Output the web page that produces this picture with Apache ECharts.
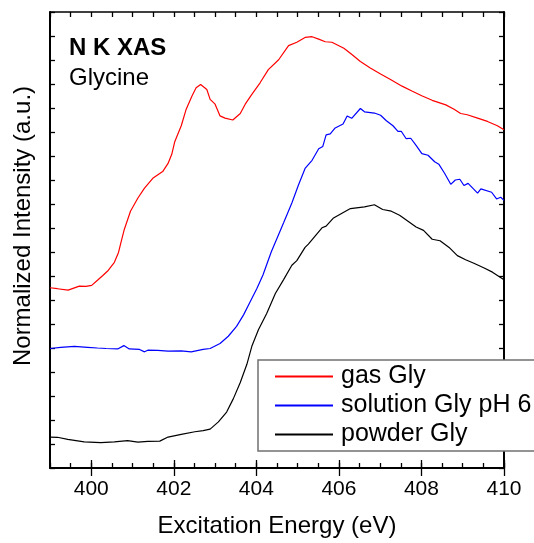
<!DOCTYPE html>
<html>
<head>
<meta charset="utf-8">
<script src="https://cdn.jsdelivr.net/npm/echarts@6/dist/echarts.min.js"></script>
<style>html,body{margin:0;padding:0;background:#fff}#c{width:534px;height:543px}</style>
</head>
<body>
<div id="c"></div>
<script>
// Excitation energy (eV) and normalized intensity (offset, a.u.)
const gasX = [399.00,399.18,399.44,399.71,399.87,400.01,400.15,400.28,400.41,400.56,400.66,400.72,400.80,400.95,401.13,401.29,401.49,401.73,401.86,401.95,402.02,402.18,402.30,402.44,402.54,402.65,402.80,402.88,403.00,403.12,403.24,403.43,403.61,403.73,403.89,404.09,404.29,404.54,404.78,404.98,405.18,405.35,405.51,405.67,405.83,406.12,406.30,406.52,406.76,407.01,407.25,407.53,407.78,408.02,408.26,408.59,408.79,408.95,409.11,409.36,409.60,409.84,410.00];
const gasY = [7.51,7.47,7.41,7.58,7.57,7.61,7.82,8.02,8.23,8.57,8.98,9.40,9.94,10.70,11.25,11.66,12.07,12.35,12.69,13.07,13.58,14.26,14.95,15.50,15.84,15.98,15.77,15.36,15.16,14.67,14.58,14.50,14.77,15.16,15.57,16.05,16.60,17.01,17.60,17.74,17.94,17.97,17.87,17.76,17.74,17.49,17.25,16.94,16.67,16.42,16.19,15.91,15.70,15.50,15.32,15.13,14.95,14.77,14.72,14.58,14.44,14.26,14.09];

const solX = [399.00,399.26,399.59,399.91,400.15,400.36,400.64,400.79,400.92,401.17,401.29,401.37,401.61,401.86,402.18,402.42,402.71,402.88,403.12,403.32,403.52,403.69,403.85,404.01,404.16,404.36,404.66,404.86,405.02,405.18,405.35,405.51,405.61,405.69,405.79,405.91,406.10,406.20,406.31,406.52,406.62,406.86,407.01,407.15,407.31,407.43,407.51,407.63,407.74,407.87,408.01,408.16,408.32,408.42,408.56,408.71,408.82,408.93,409.03,409.13,409.36,409.44,409.70,409.82,409.92,410.00];
const solY = [4.98,5.03,5.07,5.03,5.00,4.98,4.96,5.10,4.96,4.94,4.84,4.91,4.90,4.87,4.88,4.84,4.94,4.98,5.19,5.49,5.90,6.38,6.93,7.47,8.04,9.00,10.22,11.04,11.79,12.48,12.82,13.30,13.40,13.88,13.92,14.17,14.33,14.67,14.57,14.98,14.84,14.79,14.70,14.47,14.26,14.03,14.03,13.72,13.74,13.44,13.10,13.03,12.76,12.66,12.28,11.82,12.00,12.03,11.77,11.86,11.45,11.63,11.49,11.21,11.28,11.15];

const powX = [399.00,399.18,399.43,399.83,400.23,400.56,400.88,401.13,401.37,401.66,401.86,402.18,402.51,402.71,402.88,403.08,403.28,403.44,403.61,403.77,403.89,404.05,404.25,404.46,404.66,404.86,404.98,405.18,405.26,405.59,405.69,405.87,406.16,406.28,406.62,406.86,407.06,407.27,407.47,407.70,407.87,408.05,408.26,408.45,408.67,408.87,409.07,409.27,409.52,409.72,410.00];
const powY = [1.29,1.28,1.19,1.09,1.06,1.09,1.14,1.08,1.11,1.12,1.29,1.40,1.51,1.56,1.62,1.92,2.33,2.88,3.56,4.32,5.07,5.76,6.44,7.27,7.85,8.45,8.64,9.19,9.33,10.01,10.08,10.42,10.70,10.81,10.88,10.97,10.77,10.70,10.53,10.25,10.04,9.90,9.53,9.47,9.19,8.85,8.68,8.53,8.33,8.16,7.84];

const seriesNames = ['gas Gly', 'solution Gly pH 6', 'powder Gly'];
const seriesColors = ['#ff0000', '#0000ff', '#000000'];
const xTickLabels = ['400', '402', '404', '406', '408', '410'];
const titleLines = ['N K XAS', 'Glycine'];
const xName = 'Excitation Energy (eV)';
const yName = 'Normalized Intensity (a.u.)';

const X_MIN = 399, X_MAX = 410;
const halfSteps = [];
for (let v = X_MIN; v <= X_MAX + 1e-9; v += 0.5) halfSteps.push(String(v));

function pairs(xs, ys) { return xs.map((x, i) => [x, ys[i]]); }

const FONT = 'Liberation Sans, Arial, Helvetica, sans-serif';
const chart = echarts.init(document.getElementById('c'), null, {renderer: 'canvas'});

const valueX = (pos, showLabels) => ({
  type: 'value', position: pos, min: X_MIN, max: X_MAX, interval: 0.5,
  axisLine: {show: true, onZero: false, lineStyle: {color: '#000', width: pos === 'top' ? 1.5 : 2}},
  axisTick: {show: true, inside: true, length: 5, lineStyle: {color: '#000', width: 1.3}},
  splitLine: {show: false},
  axisLabel: {
    show: showLabels, margin: 11, color: '#000', fontSize: 21, fontFamily: FONT,
    formatter: v => (xTickLabels.indexOf(String(v)) >= 0 ? String(v) : '')
  },
  name: showLabels ? xName : '', nameLocation: 'middle', nameGap: 46,
  nameTextStyle: {color: '#000', fontSize: 24, fontFamily: FONT}
});
const catX = (pos) => ({
  type: 'category', position: pos, data: halfSteps, boundaryGap: false,
  axisLine: {show: false},
  axisLabel: {show: false},
  splitLine: {show: false},
  axisTick: {show: true, inside: true, length: 8, lineStyle: {color: '#000', width: 1.3},
    interval: (i, v) => xTickLabels.indexOf(v) >= 0}
});
const valueY = (pos) => ({
  type: 'value', position: pos, min: 0, max: 19, interval: 1,
  axisLine: {show: true, onZero: false, lineStyle: {color: '#000', width: 2}},
  axisTick: {show: true, inside: true, length: 5, lineStyle: {color: '#000', width: 1.3}},
  axisLabel: {show: false},
  splitLine: {show: false},
  name: pos === 'left' ? yName : '', nameLocation: 'middle', nameGap: 15,
  nameTextStyle: {color: '#000', fontSize: 24, fontFamily: FONT, padding: [0, 0, 0, 28]}
});

const option = {
  animation: false,
  backgroundColor: '#fff',
  grid: {left: 50, top: 12, right: 30, bottom: 70, containLabel: false},
  xAxis: [valueX('bottom', true), valueX('top', false), catX('bottom'), catX('top')],
  yAxis: [valueY('left'), valueY('right')],
  legend: {
    orient: 'vertical', left: 258, top: 360,
    data: seriesNames,
    itemWidth: 58, itemHeight: 14, itemGap: 4,
    padding: [4, 60, 4, 16],
    itemStyle: {opacity: 0},
    borderColor: '#707070', borderWidth: 1.5, backgroundColor: '#fff',
    textStyle: {color: '#000', fontSize: 25, fontFamily: FONT, padding: [0, 0, 0, 3]}
  },
  graphic: [
    {type: 'text', left: 69, top: 36, style: {text: titleLines[0], fontSize: 24, fontWeight: 'bold', fontFamily: FONT, fill: '#000'}},
    {type: 'text', left: 69, top: 66, style: {text: titleLines[1], fontSize: 24, fontFamily: FONT, fill: '#000'}}
  ],
  series: [
    {name: seriesNames[0], type: 'line', data: pairs(gasX, gasY)},
    {name: seriesNames[1], type: 'line', data: pairs(solX, solY)},
    {name: seriesNames[2], type: 'line', data: pairs(powX, powY)}
  ].map((s, i) => Object.assign(s, {
    xAxisIndex: 0, yAxisIndex: 0, symbol: 'none', showSymbol: false, smooth: false,
    color: seriesColors[i], lineStyle: {color: seriesColors[i], width: 1.2}, z: 3
  }))
};
chart.setOption(option);
</script>
</body>
</html>
